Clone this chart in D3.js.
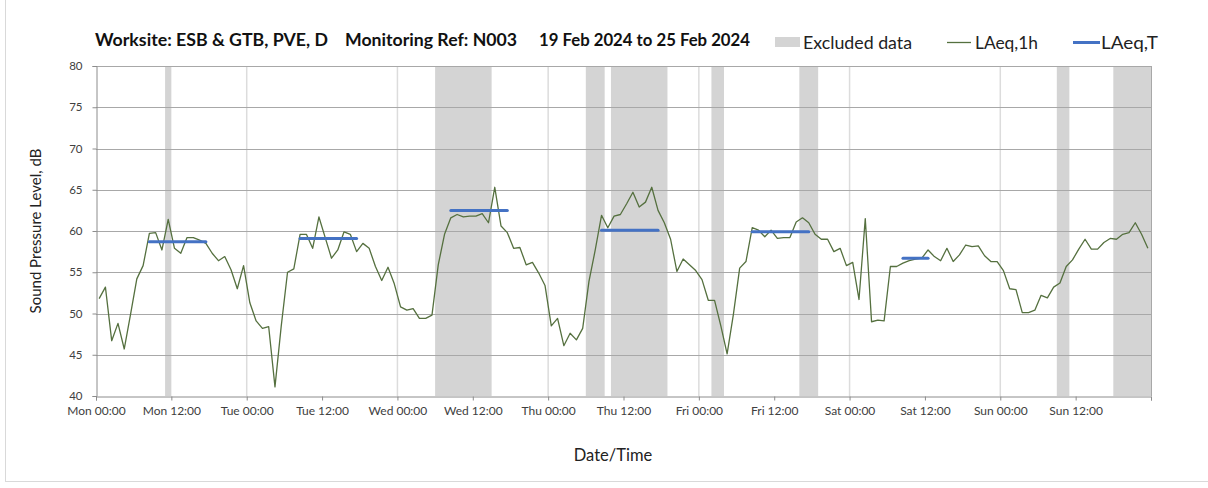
<!DOCTYPE html>
<html>
<head>
<meta charset="utf-8">
<script src="https://cdn.jsdelivr.net/npm/d3@7"></script>
<style>
  body { margin: 0; background: #fff; }
  svg { display: block; }
  text { font-family: Lato, "Open Sans", sans-serif; }
</style>
</head>
<body>
<svg id="chart" width="1208" height="488"></svg>
<script>
// ---- Data ----------------------------------------------------------------
const seriesStart = "2024-02-19 00:00";   // first hourly interval (Mon 00:00)
const periodEnd   = "2024-02-26 00:00";

// Hourly LAeq,1h values, dB (168 intervals, Mon 00:00 .. Sun 23:00)
const laeq1h = [
  51.8, 53.2, 46.7, 48.8, 45.7, 49.9, 54.2, 55.8, 59.7, 59.8, 57.7, 61.4,
  57.9, 57.3, 59.2, 59.2, 58.9, 58.5, 57.3, 56.4, 56.9, 55.3, 53.0, 55.8,
  51.3, 49.1, 48.2, 48.4, 41.1, 48.5, 55.0, 55.4, 59.6, 59.6, 57.9, 61.7,
  59.2, 56.7, 57.7, 59.9, 59.6, 57.5, 58.5, 57.9, 55.7, 54.0, 55.6, 53.6,
  50.8, 50.4, 50.6, 49.4, 49.4, 49.8, 55.9, 59.6, 61.6, 62.0, 61.7, 61.8,
  61.8, 62.1, 61.0, 65.3, 60.6, 59.8, 57.9, 58.0, 55.9, 56.2, 54.9, 53.4,
  48.5, 49.4, 46.1, 47.6, 46.8, 48.2, 53.9, 57.7, 61.9, 60.4, 61.8, 62.0,
  63.3, 64.7, 62.9, 63.5, 65.3, 62.5, 61.0, 59.0, 55.1, 56.6, 55.9, 55.2,
  54.1, 51.6, 51.6, 48.5, 45.1, 49.9, 55.5, 56.3, 60.4, 60.1, 59.3, 60.1,
  59.1, 59.2, 59.2, 61.1, 61.6, 61.0, 59.6, 59.0, 59.0, 57.5, 57.9, 55.8,
  56.2, 51.7, 61.5, 49.0, 49.2, 49.1, 55.7, 55.7, 56.1, 56.4, 56.6, 56.7,
  57.7, 56.9, 56.4, 57.9, 56.3, 57.1, 58.3, 58.1, 58.2, 57.0, 56.3, 56.3,
  55.2, 53.0, 52.9, 50.1, 50.1, 50.4, 52.2, 51.9, 53.2, 53.7, 55.7, 56.5,
  57.8, 59.0, 57.8, 57.8, 58.6, 59.1, 59.0, 59.6, 59.8, 61.0, 59.6, 57.9
];

// LAeq,T over each daytime assessment period
const laeqTStart  = ["2024-02-19 08:30", "2024-02-20 08:30", "2024-02-21 08:30",
                     "2024-02-22 08:30", "2024-02-23 08:30", "2024-02-24 08:30"];
const laeqTEnd    = ["2024-02-19 17:30", "2024-02-20 17:30", "2024-02-21 17:30",
                     "2024-02-22 17:30", "2024-02-23 17:30", "2024-02-24 12:30"];
const laeqTValues = [58.7, 59.1, 62.5, 60.1, 59.9, 56.7];

// Excluded data periods
const excludedStart = ["2024-02-19 11:00", "2024-02-21 06:00", "2024-02-22 06:00",
                       "2024-02-22 10:00", "2024-02-23 02:00", "2024-02-23 16:00",
                       "2024-02-25 09:00", "2024-02-25 18:00"];
const excludedEnd   = ["2024-02-19 12:00", "2024-02-21 15:00", "2024-02-22 09:00",
                       "2024-02-22 19:00", "2024-02-23 04:00", "2024-02-23 19:00",
                       "2024-02-25 11:00", "2024-02-26 00:00"];

const yTicks = [40, 45, 50, 55, 60, 65, 70, 75, 80];

const titleParts = ["Worksite: ESB & GTB, PVE, D", "Monitoring Ref: N003", "19 Feb 2024 to 25 Feb 2024"];
const legendLabels = ["Excluded data", "LAeq,1h", "LAeq,T"];
const xAxisTitle = "Date/Time";
const yAxisTitle = "Sound Pressure Level, dB";

// ---- Setup ---------------------------------------------------------------
const parse = d3.utcParse("%Y-%m-%d %H:%M");
const t0 = parse(seriesStart);
const hourly = laeq1h.map((v, i) => ({ t: d3.utcMinute.offset(t0, i * 60 + 30), v }));
const laeqT = laeqTValues.map((v, i) => ({ s: parse(laeqTStart[i]), e: parse(laeqTEnd[i]), v }));
const excluded = excludedStart.map((s, i) => ({ s: parse(s), e: parse(excludedEnd[i]) }));

const plot = { left: 96, right: 1151, top: 66, bottom: 396 };

const x = d3.scaleUtc().domain([t0, parse(periodEnd)]).range([plot.left, plot.right]);
const y = d3.scaleLinear().domain([40, 80]).range([plot.bottom, plot.top]);

const svg = d3.select("#chart");

// chart frame
svg.append("line").attr("x1", 5.5).attr("x2", 5.5).attr("y1", 0).attr("y2", 481.5)
  .attr("stroke", "#d9d9d9");
svg.append("line").attr("x1", 5).attr("x2", 1208).attr("y1", 481.5).attr("y2", 481.5)
  .attr("stroke", "#d9d9d9");

// excluded periods
svg.append("g").selectAll("rect").data(excluded).join("rect")
  .attr("x", d => x(d.s))
  .attr("width", d => x(d.e) - x(d.s))
  .attr("y", plot.top)
  .attr("height", plot.bottom - plot.top)
  .attr("fill", "#d4d4d4");

// vertical day gridlines
const dayTicks = x.ticks(d3.utcDay.every(1)).filter(d => +d > +t0 && +d < +x.domain()[1]);
svg.append("g").selectAll("line").data(dayTicks).join("line")
  .attr("x1", d => x(d)).attr("x2", d => x(d))
  .attr("y1", plot.top).attr("y2", plot.bottom)
  .attr("stroke", "#dcdcdc").attr("stroke-width", 1.5);

// horizontal gridlines
svg.append("g").selectAll("line").data(yTicks.filter(v => v > 40)).join("line")
  .attr("x1", plot.left).attr("x2", plot.right)
  .attr("y1", d => Math.round(y(d)) + 0.5).attr("y2", d => Math.round(y(d)) + 0.5)
  .attr("stroke", "#a8a8a8");

// right border
svg.append("line").attr("x1", plot.right + 0.5).attr("x2", plot.right + 0.5)
  .attr("y1", plot.top).attr("y2", plot.bottom).attr("stroke", "#a8a8a8");

// y axis
const yAxis = svg.append("g").attr("transform", `translate(${plot.left + 0.5},0)`)
  .call(d3.axisLeft(y).tickValues(yTicks).tickSize(4).tickPadding(10).tickFormat(d3.format("d")));
yAxis.select(".domain").attr("stroke", "#8c8c8c");
yAxis.selectAll(".tick line").attr("stroke", "#8c8c8c");
yAxis.selectAll(".tick text").attr("fill", "#404040").style("font-size", "11.5px")
  .style("font-family", "Lato, sans-serif");

// x axis
const xTicks = x.ticks(d3.utcHour.every(12));
const fmt = d3.utcFormat("%a %H:%M");
const xAxis = svg.append("g").attr("transform", `translate(0,${plot.bottom + 0.5})`)
  .call(d3.axisBottom(x).tickValues(xTicks).tickSize(4).tickPadding(6).tickFormat(fmt));
xAxis.select(".domain").attr("stroke", "#8c8c8c");
xAxis.selectAll(".tick line").attr("stroke", "#8c8c8c");
xAxis.selectAll(".tick text").attr("fill", "#404040").style("font-size", "12px")
  .style("font-family", "Lato, sans-serif")
  .filter(d => +d === +x.domain()[1]).remove();

// LAeq,1h line
svg.append("path").datum(hourly)
  .attr("d", d3.line().x(d => x(d.t)).y(d => y(d.v)))
  .attr("fill", "none").attr("stroke", "#55703f").attr("stroke-width", 1.3)
  .attr("stroke-linejoin", "round");

// LAeq,T segments
svg.append("g").selectAll("line").data(laeqT).join("line")
  .attr("x1", d => x(d.s)).attr("x2", d => x(d.e))
  .attr("y1", d => y(d.v)).attr("y2", d => y(d.v))
  .attr("stroke", "#4472c4").attr("stroke-width", 3).attr("stroke-linecap", "round");

// title
const titleX = [95, 345, 539];
const titleW = [233, 172, 211];
svg.append("g").selectAll("text").data(titleParts).join("text")
  .attr("x", (d, i) => titleX[i]).attr("y", 46)
  .attr("font-weight", "bold").attr("font-size", 16.5).attr("fill", "#111")
  .attr("textLength", (d, i) => titleW[i]).attr("lengthAdjust", "spacingAndGlyphs")
  .text(d => d);

// legend
const lg = svg.append("g");
const legendText = (xPos, w, label) => lg.append("text")
  .attr("x", xPos).attr("y", 48.5).attr("font-size", 17).attr("fill", "#222")
  .attr("textLength", w).attr("lengthAdjust", "spacingAndGlyphs").text(label);
lg.append("rect").attr("x", 775).attr("y", 37).attr("width", 25).attr("height", 10).attr("fill", "#d4d4d4");
legendText(803, 109, legendLabels[0]);
lg.append("line").attr("x1", 947).attr("x2", 971).attr("y1", 42.5).attr("y2", 42.5)
  .attr("stroke", "#55703f").attr("stroke-width", 1.3);
legendText(975, 63, legendLabels[1]);
lg.append("line").attr("x1", 1073).attr("x2", 1100).attr("y1", 42.5).attr("y2", 42.5)
  .attr("stroke", "#4472c4").attr("stroke-width", 3);
legendText(1101, 57, legendLabels[2]);

// axis titles
svg.append("text").attr("x", 613).attr("y", 461)
  .attr("text-anchor", "middle").attr("font-size", 16.5).attr("fill", "#222").text(xAxisTitle);
svg.append("text").attr("transform", `translate(41,${(plot.top + plot.bottom) / 2}) rotate(-90)`)
  .attr("text-anchor", "middle").attr("font-size", 15).attr("fill", "#222").text(yAxisTitle);
</script>
</body>
</html>
